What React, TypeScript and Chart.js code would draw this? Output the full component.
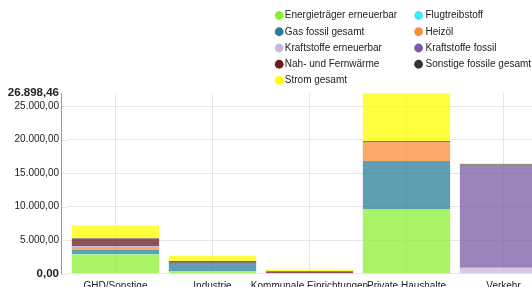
import React, { useEffect, useRef } from "react";
import { Chart, registerables } from "chart.js";

Chart.register(...registerables);

const categories = ["GHD/Sonstige", "Industrie", "Kommunale Einrichtungen", "Private Haushalte", "Verkehr"];

const energietraegerErneuerbar = [2850, 250, 30, 9480.25, 0];
const flugtreibstoff = [50, 100, 0, 95.4, 0];
const gasFossilGesamt = [600, 1100, 30, 7205.8, 0];
const heizoel = [450, 0, 0, 2791.6, 0];
const kraftstoffeErneuerbar = [80, 0, 0, 0, 870];
const kraftstoffeFossil = [60, 0, 0, 0, 15330];
const nahFernwaerme = [1100, 200, 280, 150.2, 0];
const sonstigeFossilGesamt = [60, 200, 0, 52.7, 100];
const stromGesamt = [1900, 750, 280, 7122.51, 150];

const seriesNames = [
  "Energieträger erneuerbar",
  "Flugtreibstoff",
  "Gas fossil gesamt",
  "Heizöl",
  "Kraftstoffe erneuerbar",
  "Kraftstoffe fossil",
  "Nah- und Fernwärme",
  "Sonstige fossile gesamt",
  "Strom gesamt",
];
const seriesValues = [
  energietraegerErneuerbar,
  flugtreibstoff,
  gasFossilGesamt,
  heizoel,
  kraftstoffeErneuerbar,
  kraftstoffeFossil,
  nahFernwaerme,
  sonstigeFossilGesamt,
  stromGesamt,
];
const seriesColors = [
  [140, 240, 50],
  [64, 232, 248],
  [42, 127, 152],
  [248, 140, 58],
  [200, 184, 220],
  [122, 90, 166],
  [107, 26, 31],
  [51, 51, 51],
  [255, 255, 0],
];
const yTickStep = 5000;

const fmt = (v: number) => {
  const fixed = Math.abs(v).toFixed(2);
  const [intPart, dec] = fixed.split(".");
  const withSep = intPart.replace(/\B(?=(\d{3})+(?!\d))/g, ".");
  return (v < 0 ? "-" : "") + withSep + "," + dec;
};

const FONT = '"Liberation Sans", Arial, sans-serif';

export default function App() {
  const ref = useRef<HTMLCanvasElement | null>(null);

  useEffect(() => {
    if (!ref.current) return;
    const totals = categories.map((_, i) => seriesValues.reduce((s, arr) => s + arr[i], 0));
    const yMax = Math.round(Math.max(...totals) * 100) / 100;

    const extras = {
      id: "extras",
      beforeDatasetsDraw(chart: any) {
        const { ctx, chartArea, scales } = chart;
        const y = scales.y;
        ctx.save();
        ctx.lineWidth = 1;
        ctx.strokeStyle = "#e6e6e6";
        y.ticks.forEach((t: any) => {
          if (t.value === yMax) return;
          const py = Math.round(y.getPixelForValue(t.value)) + 0.5;
          ctx.beginPath();
          ctx.moveTo(chartArea.left - 5, py);
          ctx.lineTo(chartArea.left, py);
          ctx.stroke();
        });
        ctx.strokeStyle = "#9a9a9a";
        ctx.beginPath();
        ctx.moveTo(chartArea.left - 5.5, chartArea.top);
        ctx.lineTo(chartArea.left - 5.5, chartArea.bottom + 1);
        ctx.stroke();
        ctx.restore();
      },
      afterDraw(chart: any) {
        const { ctx } = chart;
        ctx.save();
        ctx.font = "10px " + FONT;
        ctx.textBaseline = "middle";
        ctx.textAlign = "left";
        const cols = [
          { cx: 279.2, tx: 284.8 },
          { cx: 418.6, tx: 425.5 },
        ];
        seriesNames.forEach((name, i) => {
          const col = cols[i % 2];
          const row = Math.floor(i / 2);
          const cy = 15.5 + row * 16.25;
          const c = seriesColors[i];
          ctx.fillStyle = `rgb(${c[0]},${c[1]},${c[2]})`;
          ctx.beginPath();
          ctx.arc(col.cx, cy, 4.4, 0, Math.PI * 2);
          ctx.fill();
          ctx.fillStyle = "#222";
          ctx.fillText(name, col.tx, cy);
        });
        ctx.restore();
      },
    };

    const chart = new Chart(ref.current, {
      type: "bar",
      data: {
        labels: categories,
        datasets: seriesNames.map((name, i) => ({
          label: name,
          data: seriesValues[i],
          backgroundColor: `rgba(${seriesColors[i][0]},${seriesColors[i][1]},${seriesColors[i][2]},0.75)`,
          borderWidth: 0,
          categoryPercentage: 0.9,
          barPercentage: 1,
        })),
      },
      options: {
        responsive: false,
        animation: false,
        devicePixelRatio: 1,
        layout: { padding: { top: 93.3, right: 8, bottom: 0, left: 0 } },
        plugins: {
          legend: { display: false },
          tooltip: { enabled: false },
        },
        scales: {
          x: {
            stacked: true,
            grid: { offset: false, color: "#e6e6e6", drawTicks: false },
            border: { display: false },
            ticks: {
              maxRotation: 0,
              minRotation: 0,
              autoSkip: false,
              padding: 7,
              color: "#222",
              font: { family: FONT, size: 10 },
            },
            afterFit: (scale: any) => {
              scale.height = 300 - 273.5;
            },
          },
          y: {
            stacked: true,
            min: 0,
            max: yMax,
            grid: {
              color: (ctx: any) => (ctx.tick && ctx.tick.value === yMax ? "rgba(0,0,0,0)" : "#e6e6e6"),
              drawTicks: false,
            },
            border: { display: false },
            afterBuildTicks: (scale: any) => {
              const ticks: any[] = [];
              for (let v = 0; v < yMax; v += yTickStep) ticks.push({ value: v });
              ticks.push({ value: yMax });
              scale.ticks = ticks;
            },
            afterFit: (scale: any) => {
              scale.width = 67;
            },
            ticks: {
              padding: 8,
              color: "#222",
              callback: (v: any) => fmt(Number(v)),
              font: (ctx: any) => {
                const v = ctx.tick ? ctx.tick.value : null;
                if (v === 0 || v === yMax) return { family: FONT, size: 11.5, weight: "bold" };
                return { family: FONT, size: 10 };
              },
            },
          },
        },
      },
      plugins: [extras],
    });
    return () => chart.destroy();
  }, []);

  return (
    <div style={{ position: "fixed", left: 0, top: 0, width: 532, height: 287, overflow: "hidden", background: "#fff" }}>
      <canvas ref={ref} width={560} height={300} style={{ width: 560, height: 300, display: "block" }} />
    </div>
  );
}
